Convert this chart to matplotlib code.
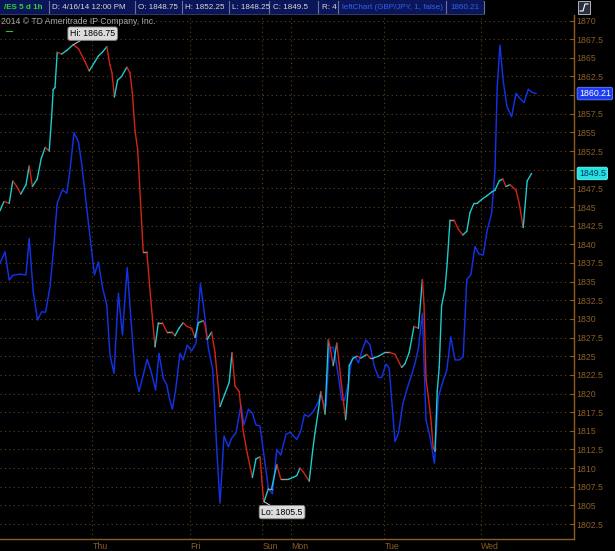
import numpy as np
import matplotlib
matplotlib.use("Agg")
import matplotlib.pyplot as plt
from matplotlib.collections import LineCollection
from matplotlib.patches import Rectangle
from matplotlib.lines import Line2D

plt.rcParams["font.family"] = ["Liberation Sans", "DejaVu Sans"]

# ---------------- data (hours since start, price) ----------------
es_t = [0.0, 1.0, 2.3, 3.2, 4.2, 5.2, 6.5, 7.3, 8.1, 9.3, 10.3, 11.3, 12.3, 12.9, 13.3, 13.75,
        14.3, 15.4, 16.7, 18.3, 19.6, 21.25, 22.3, 23.75, 24.6, 25.6, 26.7, 27.5, 28.0, 28.6,
        29.4, 30.4, 31.7, 32.5, 33.1, 33.75, 34.4, 34.75, 35.8, 36.7, 37.1, 37.75, 38.75, 39.6,
        40.6, 41.7, 42.9, 43.75, 44.75, 45.8, 46.7, 47.9, 48.75, 49.6, 50.8, 51.25, 51.8, 52.9,
        53.75, 55.0, 56.25, 57.3, 58.0, 58.75, 59.8, 60.8, 61.8, 63.1, 64.0, 65.0, 65.7, 66.0,
        67.1, 67.9, 69.2, 70.2, 72.1, 73.25, 74.2, 75.0, 75.8, 77.3, 78.2, 78.75, 79.6, 80.2,
        80.7, 81.25, 82.1, 82.5, 83.3, 84.2, 84.8, 85.4, 86.4, 87.1, 87.3, 88.3, 89.3, 90.25,
        91.7, 92.5, 93.3, 94.6, 96.25, 97.5, 98.75, 100.4, 101.25, 102.3, 103.5, 104.6, 105.6,
        106.0, 106.5, 107.1, 107.7, 108.3, 108.75, 109.3, 109.8, 110.4, 111.25, 111.8, 112.5,
        113.5, 114.6, 115.7, 116.7, 117.5, 118.5, 119.3, 120.4, 121.7, 122.9, 123.75, 124.8,
        125.7, 126.5, 127.5, 129.0, 129.8, 130.8, 131.8, 132.9]
es_v = [1844.5, 1845.75, 1845.5, 1848.5, 1847.75, 1846.75, 1848, 1850.5, 1847.75, 1848.75,
        1851.5, 1853, 1852.5, 1857, 1860.75, 1861, 1865.75, 1865.5, 1866, 1866.75, 1866.25,
        1864.5, 1863.25, 1864.5, 1865.25, 1865.75, 1866.5, 1864, 1863, 1859.75, 1862, 1862.5,
        1863.75, 1863, 1860.25, 1855.25, 1852.75, 1849.5, 1839, 1839, 1836.5, 1832.25, 1826.25,
        1829.5, 1829.5, 1828.25, 1828.25, 1827.75, 1828.75, 1829.5, 1829, 1828.75, 1827.5,
        1829.5, 1829.75, 1829.25, 1827.25, 1828.25, 1825.5, 1818.25, 1820, 1821.5, 1825.5,
        1821, 1820.25, 1815, 1812, 1808.75, 1811.25, 1811.5, 1806.75, 1805.5, 1807.25, 1807.25,
        1810.5, 1808.5, 1808.5, 1808.75, 1809, 1810, 1809.5, 1808.25, 1812.5, 1814.75, 1817.75,
        1820.25, 1819, 1817.25, 1827.25, 1826.25, 1823.75, 1826.75, 1824, 1821, 1816.5, 1821,
        1823.75, 1824.75, 1825, 1824.75, 1825.25, 1824.75, 1824.75, 1825, 1825.5, 1825.5,
        1825.25, 1823.5, 1824, 1825.5, 1829, 1828.75, 1835.25, 1832, 1822, 1819.5, 1816.75,
        1812.75, 1812.25, 1820.25, 1823.5, 1831.75, 1834, 1837.5, 1843.25, 1843.25, 1842,
        1841.25, 1841.75, 1844.25, 1845.5, 1845.5, 1846, 1846.5, 1847, 1847.25, 1848.5,
        1848.75, 1847.75, 1848, 1847.25, 1845.5, 1842.25, 1848.5, 1849.5]

gbp_t = [0.0, 1.25, 2.3, 3.2, 5.0, 6.5, 7.3, 8.3, 9.4, 10.4, 11.4, 12.5, 13.3, 14.3, 15.6, 16.7,
         17.5, 18.5, 19.6, 20.4, 21.5, 22.5, 23.6, 24.6, 25.6, 26.7, 27.5, 28.5, 29.6, 30.6,
         31.8, 32.75, 33.75, 34.75, 35.8, 36.8, 37.9, 38.9, 39.75, 40.8, 41.7, 42.25, 43.1,
         43.9, 45.0, 45.8, 46.8, 47.9, 49.0, 50.1, 51.0, 52.1, 53.2, 54.2, 55.0, 56.0, 57.1,
         57.9, 59.0, 60.25, 61.0, 62.1, 63.1, 64.0, 65.0, 66.1, 67.1, 68.1, 69.2, 70.2, 71.5,
         72.5, 74.2, 75.2, 76.1, 77.1, 78.3, 79.6, 80.2, 80.8, 81.5, 82.3, 83.2, 83.75, 84.8,
         85.4, 86.1, 87.1, 87.9, 88.75, 89.6, 90.7, 91.5, 92.5, 93.5, 94.6, 95.4, 96.5, 97.3,
         98.75, 99.6, 100.7, 101.8, 102.9, 103.75, 104.6, 105.6, 106.5, 107.5, 108.6, 109.6,
         110.7, 111.7, 112.7, 113.75, 114.8, 115.8, 116.7, 117.7, 118.75, 119.75, 120.8, 121.8,
         122.9, 123.75, 124.3, 125.0, 125.8, 126.75, 127.9, 129.0, 130.0, 131.0, 132.1, 132.9,
         134.0]
gbp_v = [1837.45, 1839.0, 1835.2, 1835.85, 1836.0, 1835.9, 1840.8, 1833.65, 1829.85, 1830.95,
         1830.9, 1834.3, 1838.8, 1845.5, 1847.3, 1846.85, 1849.95, 1854.95, 1853.75, 1850.85,
         1845.7, 1841.0, 1835.9, 1837.65, 1834.3, 1831.85, 1825.15, 1822.7, 1833.45, 1827.85,
         1836.9, 1829.85, 1822.7, 1820.25, 1822.5, 1824.6, 1822.7, 1820.45, 1825.4, 1822.05,
         1821.15, 1819.55, 1817.9, 1820.45, 1825.4, 1824.5, 1826.5, 1825.7, 1826.75, 1834.75,
         1831.2, 1826.05, 1823.15, 1812.4, 1805.3, 1814.3, 1812.85, 1814.0, 1814.75, 1818.45,
         1815.8, 1817.9, 1817.35, 1815.8, 1815.65, 1811.3, 1807.3, 1806.55, 1812.5, 1811.75,
         1814.55, 1814.8, 1813.85, 1815.0, 1817.2, 1816.9, 1817.55, 1818.9, 1820.05, 1818.7,
         1818.25, 1826.05, 1826.2, 1825.15, 1821.6, 1819.15, 1819.05, 1821.35, 1824.5, 1824.95,
         1824.1, 1826.05, 1827.15, 1826.5, 1823.8, 1822.15, 1822.15, 1823.95, 1823.4, 1813.55,
         1814.65, 1818.6, 1820.7, 1822.5, 1824.05, 1826.05, 1830.75, 1816.45, 1814.2, 1810.65,
         1819.55, 1821.6, 1823.15, 1827.6, 1824.5, 1824.5, 1824.95, 1835.3, 1835.9, 1839.7,
         1838.7, 1838.55, 1841.9, 1844.15, 1849.95, 1861.1, 1866.7, 1861.9, 1858.45, 1857.1,
         1860.25, 1859.55, 1859.0, 1860.8, 1860.4, 1860.21]

day_labels = ["Thu", "Fri", "Sun", "Mon", "Tue", "Wed"]
day_pos = [23.1, 47.5, 65.6, 72.7, 96.1, 120.3]
y_ticks = [1802.5 + 2.5 * i for i in range(28)]

header_items = [("/ES 5 d 1h", "#35d335"), ("D: 4/16/14 12:00 PM", "#d8d8d8"),
                ("O: 1848.75", "#d8d8d8"), ("H: 1852.25", "#d8d8d8"), ("L: 1848.25", "#d8d8d8"),
                ("C: 1849.5", "#d8d8d8"), ("R: 4", "#d8d8d8"),
                ("leftChart (GBP/JPY, 1, false)", "#2f62e8"), ("1860.21", "#2f62e8")]
header_x = [4, 52, 138, 185, 232, 273, 322, 342, 450]
header_sep = [49, 135, 182, 229, 269, 318, 338, 446, 484]

# ---------------- style ----------------
W, H = 615, 551
CYAN, RED, GREY, BLUE = "#1fcaca", "#d42416", "#9a9a9a", "#1232e6"
BROWN = "#8a5e24"

fig = plt.figure(figsize=(W / 100, H / 100), dpi=100, facecolor="black")
ax = fig.add_axes([0, 1 - 539 / H, 574 / W, (539 - 15) / H])
ax.set_facecolor("black")
ax.set_xlim(0, 143.5)
ax.set_ylim(1800.5, 1870.74)

# blue overlay
ax.plot(gbp_t, gbp_v, color=BLUE, lw=1.05, zorder=3, solid_joinstyle="round")

# ES line coloured by direction
pts = np.column_stack([es_t, es_v])
segs = np.stack([pts[:-1], pts[1:]], axis=1)
d = np.diff(es_v)
cols = [CYAN if x > 0 else (RED if x < 0 else GREY) for x in d]
ax.add_collection(LineCollection(segs, colors=cols, linewidths=1.0, zorder=4,
                                 capstyle="round", joinstyle="round"))

# grid / axes (labels hidden where the last-value boxes cover them)
last_vals = [gbp_v[-1], es_v[-1]]
ax.set_yticks(y_ticks)
ax.set_yticklabels(["" if any(abs(v - lv) < 0.9 for lv in last_vals) else f"{v:g}"
                    for v in y_ticks])
ax.set_xticks(day_pos)
ax.set_xticklabels(day_labels)
for lab in ax.get_xticklabels():
    lab.set_ha("left")
ax.grid(True, color="#5e4218", linestyle=(0, (1, 3)), linewidth=0.8)
ax.tick_params(axis="y", left=False, right=True, labelleft=False, labelright=True,
               direction="in", length=3, width=0.8, color=BROWN, labelcolor=BROWN,
               labelsize=6.3, pad=1.5)
ax.tick_params(axis="x", length=0, labelcolor=BROWN, labelsize=6.3, pad=2)
for s in ["top", "left"]:
    ax.spines[s].set_visible(False)
for s in ["right", "bottom"]:
    ax.spines[s].set_color(BROWN)
    ax.spines[s].set_linewidth(1.0)

# Hi / Lo callouts
hi_i = int(np.argmax(es_v))
lo_i = int(np.argmin(es_v))
box = dict(boxstyle="round,pad=0.25", fc="#dcdcdc", ec="#8a8a8a", lw=0.6)
ax.annotate(f"Hi: {es_v[hi_i]:g}", xy=(es_t[hi_i], es_v[hi_i]), xytext=(14, 8),
            textcoords="offset points", ha="center", va="center", fontsize=6.3,
            color="black", bbox=box, zorder=6,
            arrowprops=dict(arrowstyle="-", color="#cfcfcf", lw=0.7, shrinkA=0, shrinkB=0))
ax.annotate(f"Lo: {es_v[lo_i]:g}", xy=(es_t[lo_i], es_v[lo_i]), xytext=(13, -7.5),
            textcoords="offset points", ha="center", va="center", fontsize=6.3,
            color="black", bbox=box, zorder=6,
            arrowprops=dict(arrowstyle="-", color="#cfcfcf", lw=0.7, shrinkA=0, shrinkB=0))

# last value labels on price axis
ax.annotate(f"{gbp_v[-1]:.2f}", xy=(1, gbp_v[-1]), xycoords=("axes fraction", "data"),
            xytext=(3.5, 0), textcoords="offset points", ha="left", va="center",
            fontsize=6.3, color="white", annotation_clip=False, zorder=7,
            bbox=dict(boxstyle="round,pad=0.2", fc="#1c3cf0", ec="#6a84ff", lw=0.6))
ax.annotate(f"{es_v[-1]:g}", xy=(1, es_v[-1]), xycoords=("axes fraction", "data"),
            xytext=(3.5, 0), textcoords="offset points", ha="left", va="center",
            fontsize=6.3, color="#06305a", annotation_clip=False, zorder=7,
            bbox=dict(boxstyle="round,pad=0.2", fc="#20e4e4", ec="#7ff4f4", lw=0.6))

# header bar
def fx(px):
    return px / W

def fy(py):
    return 1 - py / H

fig.patches.append(Rectangle((0, fy(14)), fx(484), 14 / H, transform=fig.transFigure,
                             fc="#0b165a", ec="none", zorder=1))
for sx in header_sep:
    fig.lines.append(Line2D([fx(sx), fx(sx)], [fy(13), fy(1)], transform=fig.transFigure,
                            color="#6a7298", lw=0.8))
fig.lines.append(Line2D([0, fx(484)], [fy(14), fy(14)], transform=fig.transFigure,
                        color="#3a4478", lw=0.6))
for (txt, col), hx in zip(header_items, header_x):
    fig.text(fx(hx), fy(7.5), txt, color=col, fontsize=5.75, ha="left", va="center",
             fontweight="bold" if txt.startswith("/ES") else "normal")

# top-right icon
fig.patches.append(Rectangle((fx(578), fy(14)), fx(12), 13 / H, transform=fig.transFigure,
                             fc="#2a3040", ec="#c8c8c8", lw=0.6))
fig.lines.append(Line2D([fx(580), fx(583), fx(585), fx(588)], [fy(11), fy(11), fy(4), fy(4)],
                        transform=fig.transFigure, color="white", lw=0.8))

# copyright and ticker marker
fig.text(fx(1), fy(22), "2014 \u00a9 TD Ameritrade IP Company, Inc.", color="#a8a8a8",
         fontsize=6.2, ha="left", va="center")
fig.lines.append(Line2D([fx(6), fx(12)], [fy(31), fy(31)], transform=fig.transFigure,
                        color="#2fbf2f", lw=0.8))

fig.savefig("out.png", dpi=100, facecolor="black")
